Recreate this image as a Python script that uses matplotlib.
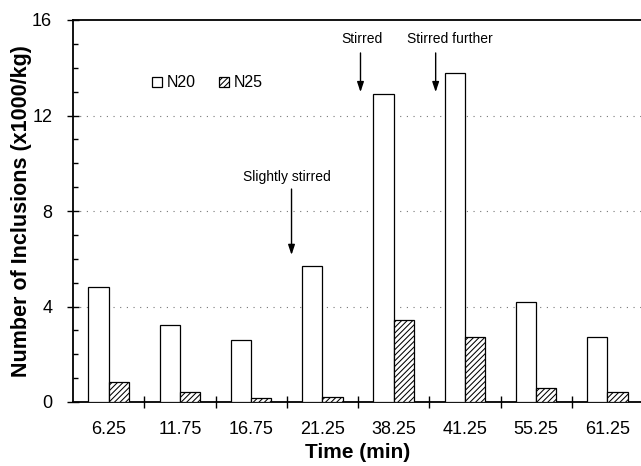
import matplotlib
matplotlib.use('Agg')
import matplotlib.pyplot as plt
import numpy as np
from matplotlib.ticker import MultipleLocator, FixedLocator

# inclusion counts (x1000/kg) at each sampling time
times = ['6.25', '11.75', '16.75', '21.25', '38.25', '41.25', '55.25', '61.25']
n20 = [4.80, 3.22, 2.58, 5.68, 12.89, 13.77, 4.19, 2.71]
n25 = [0.84, 0.42, 0.15, 0.22, 3.43, 2.74, 0.57, 0.43]

# stirring events: (label, text x, text y, arrow x, arrow start y, arrow end y)
events = [
    ('Slightly stirred', 2.50, 9.42, 2.567, 8.92, 6.16),
    ('Stirred', 3.55, 15.20, 3.535, 14.62, 12.98),
    ('Stirred further', 4.79, 15.20, 4.59, 14.62, 12.98),
]

plt.rcParams['font.family'] = ['Liberation Sans', 'DejaVu Sans']
plt.rcParams['hatch.linewidth'] = 0.75

fig = plt.figure(figsize=(6.41, 4.66), dpi=100)
ax = fig.add_axes([73 / 641, 64 / 466, 570 / 641, 382 / 466])

x = np.arange(len(times))
w = 0.285
ax.bar(x, n20, width=-w, align='edge', color='white', edgecolor='black',
       linewidth=0.9, label='N20', zorder=3)
ax.bar(x, n25, width=w, align='edge', color='white', edgecolor='black',
       hatch='//////', linewidth=0.9, label='N25', zorder=3)

ax.set_xlim(-0.5, len(times) - 0.5)
ax.set_ylim(0, 16)

# y axis: majors every 4, minors every 1
ax.yaxis.set_major_locator(MultipleLocator(4))
ax.yaxis.set_minor_locator(MultipleLocator(1))
ax.tick_params(axis='y', which='major', direction='inout', length=8, width=1,
               labelsize=13, pad=11)
ax.tick_params(axis='y', which='minor', direction='in', length=3.5, width=1)

# x axis: labels centred, ticks on category boundaries
ax.set_xticks(x)
ax.set_xticklabels(times)
ax.xaxis.set_minor_locator(FixedLocator(np.arange(0.5, len(times) - 0.5, 1)))
ax.tick_params(axis='x', which='major', length=0, labelsize=13, pad=14)
ax.tick_params(axis='x', which='minor', direction='inout', length=9, width=1)

for yv in [4, 8, 12]:
    ax.axhline(yv, color='#777777', linestyle=(0, (1, 5)), linewidth=0.8, zorder=1)

ax.spines['right'].set_visible(False)
for s in ['left', 'bottom', 'top']:
    ax.spines[s].set_linewidth(1.3)

ax.set_ylabel('Number of Inclusions (x1000/kg)', fontsize=15.5, fontweight='bold')
ax.yaxis.set_label_coords(-0.072, 0.5)
ax.set_xlabel('Time (min)', fontsize=15, fontweight='bold', labelpad=3)

for label, tx, ty, axx, y0, y1 in events:
    ax.text(tx, ty, label, ha='center', va='center', fontsize=10)
    ax.annotate('', xy=(axx, y1), xytext=(axx, y0),
                arrowprops=dict(arrowstyle='-|>,head_length=0.6,head_width=0.2',
                                color='black', linewidth=1, shrinkA=0, shrinkB=0))

ax.legend(loc='center left', bbox_to_anchor=(152 / 641, 1 - 83 / 466),
          bbox_transform=fig.transFigure, ncol=2, frameon=False, fontsize=11.5,
          handlelength=0.65, handleheight=0.65, handletextpad=0.3,
          columnspacing=1.4, borderpad=0, borderaxespad=0)

fig.savefig('out.png', dpi=100)
